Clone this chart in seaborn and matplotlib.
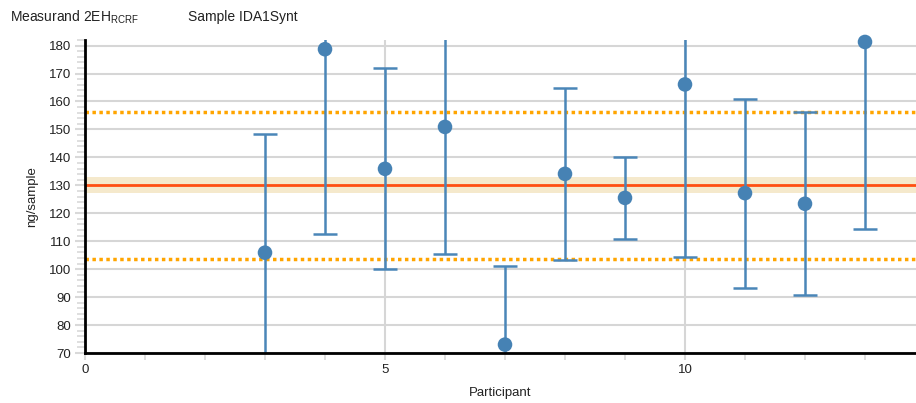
import numpy as np
import pandas as pd
import matplotlib
matplotlib.use("Agg")
import matplotlib.pyplot as plt
import seaborn as sns
from matplotlib.ticker import MultipleLocator

# Data
participants = [3, 4, 5, 6, 7, 8, 9, 10, 11, 12, 13]
values = [105.9, 178.7, 135.9, 150.9, 73.0, 134.1, 125.5, 166.1, 127.2, 123.4, 181.3]
lower = [63.5, 112.7, 99.9, 105.6, 44.8, 103.4, 110.9, 104.5, 93.3, 90.6, 114.3]
upper = [148.3, 244.7, 171.9, 196.2, 101.2, 164.9, 140.2, 227.7, 160.9, 156.3, 248.3]

assigned_value = 130.0
assigned_unc = (127.4, 132.8)
tolerance = (103.8, 156.2)

df = pd.DataFrame({"Participant": participants, "value": values,
                   "lower": lower, "upper": upper})

sns.set_theme(style="white")
plt.rcParams["font.family"] = ["Liberation Sans", "DejaVu Sans"]

fig = plt.figure(figsize=(9.16, 4.03), dpi=100)
ax = fig.add_axes([85 / 916, 1 - 353 / 403, (916 - 85) / 916, (353 - 40) / 403])

ax.set_xlim(0, 13.85)
ax.set_ylim(70, 182)

# grid
ax.yaxis.set_major_locator(MultipleLocator(10))
ax.yaxis.set_minor_locator(MultipleLocator(2))
ax.xaxis.set_major_locator(MultipleLocator(5))
ax.xaxis.set_minor_locator(MultipleLocator(1))
ax.grid(True, which="major", axis="both", color="#d6d6d6", linewidth=1.5, zorder=0)
ax.set_axisbelow(True)

# assigned value band and lines
ax.axhspan(assigned_unc[0], assigned_unc[1], color="#f5e9cc", lw=0, zorder=1)
ax.axhline(assigned_value, color="#ff4f12", lw=2, zorder=2)
for t in tolerance:
    ax.axhline(t, color="#ffa500", lw=2.5, ls=(0, (1, 1)), zorder=2)

# error bars
yerr = np.array([df["value"] - df["lower"], df["upper"] - df["value"]])
ax.errorbar(df["Participant"], df["value"], yerr=yerr, fmt="none",
            ecolor="#4a86b8", elinewidth=1.8, capsize=8.3, capthick=1.8, zorder=3)

sns.scatterplot(data=df, x="Participant", y="value", ax=ax, color="#4682b4",
                s=110, edgecolor="none", zorder=4, clip_on=False, legend=False)

# spines / ticks
for side in ["top", "right"]:
    ax.spines[side].set_visible(False)
for side in ["left", "bottom"]:
    ax.spines[side].set_color("black")
    ax.spines[side].set_linewidth(2)
    ax.spines[side].set_zorder(5)

ax.tick_params(axis="both", which="both", direction="out", color="#d9d9d9",
               labelsize=9.5, labelcolor="#222222")
ax.tick_params(axis="y", which="major", length=7, width=1.5, left=True, pad=3)
ax.tick_params(axis="y", which="minor", length=6, width=1.2, left=True)
ax.tick_params(axis="x", which="major", length=5, width=1.5, bottom=True, pad=3)
ax.tick_params(axis="x", which="minor", length=5, width=1.2, bottom=True)

ax.set_xlabel("Participant", fontsize=9.5, color="#222222", labelpad=8)
ax.set_ylabel("ng/sample", fontsize=9.5, color="#222222", labelpad=8)

fig.text(10 / 916, 1 - 17 / 403, r"Measurand 2EH$_{\mathregular{RCRF}}$",
         fontsize=10, color="#222222", va="center")
fig.text(188 / 916, 1 - 17 / 403, "Sample IDA1Synt",
         fontsize=10, color="#222222", va="center")

fig.savefig("out.png", dpi=100)
